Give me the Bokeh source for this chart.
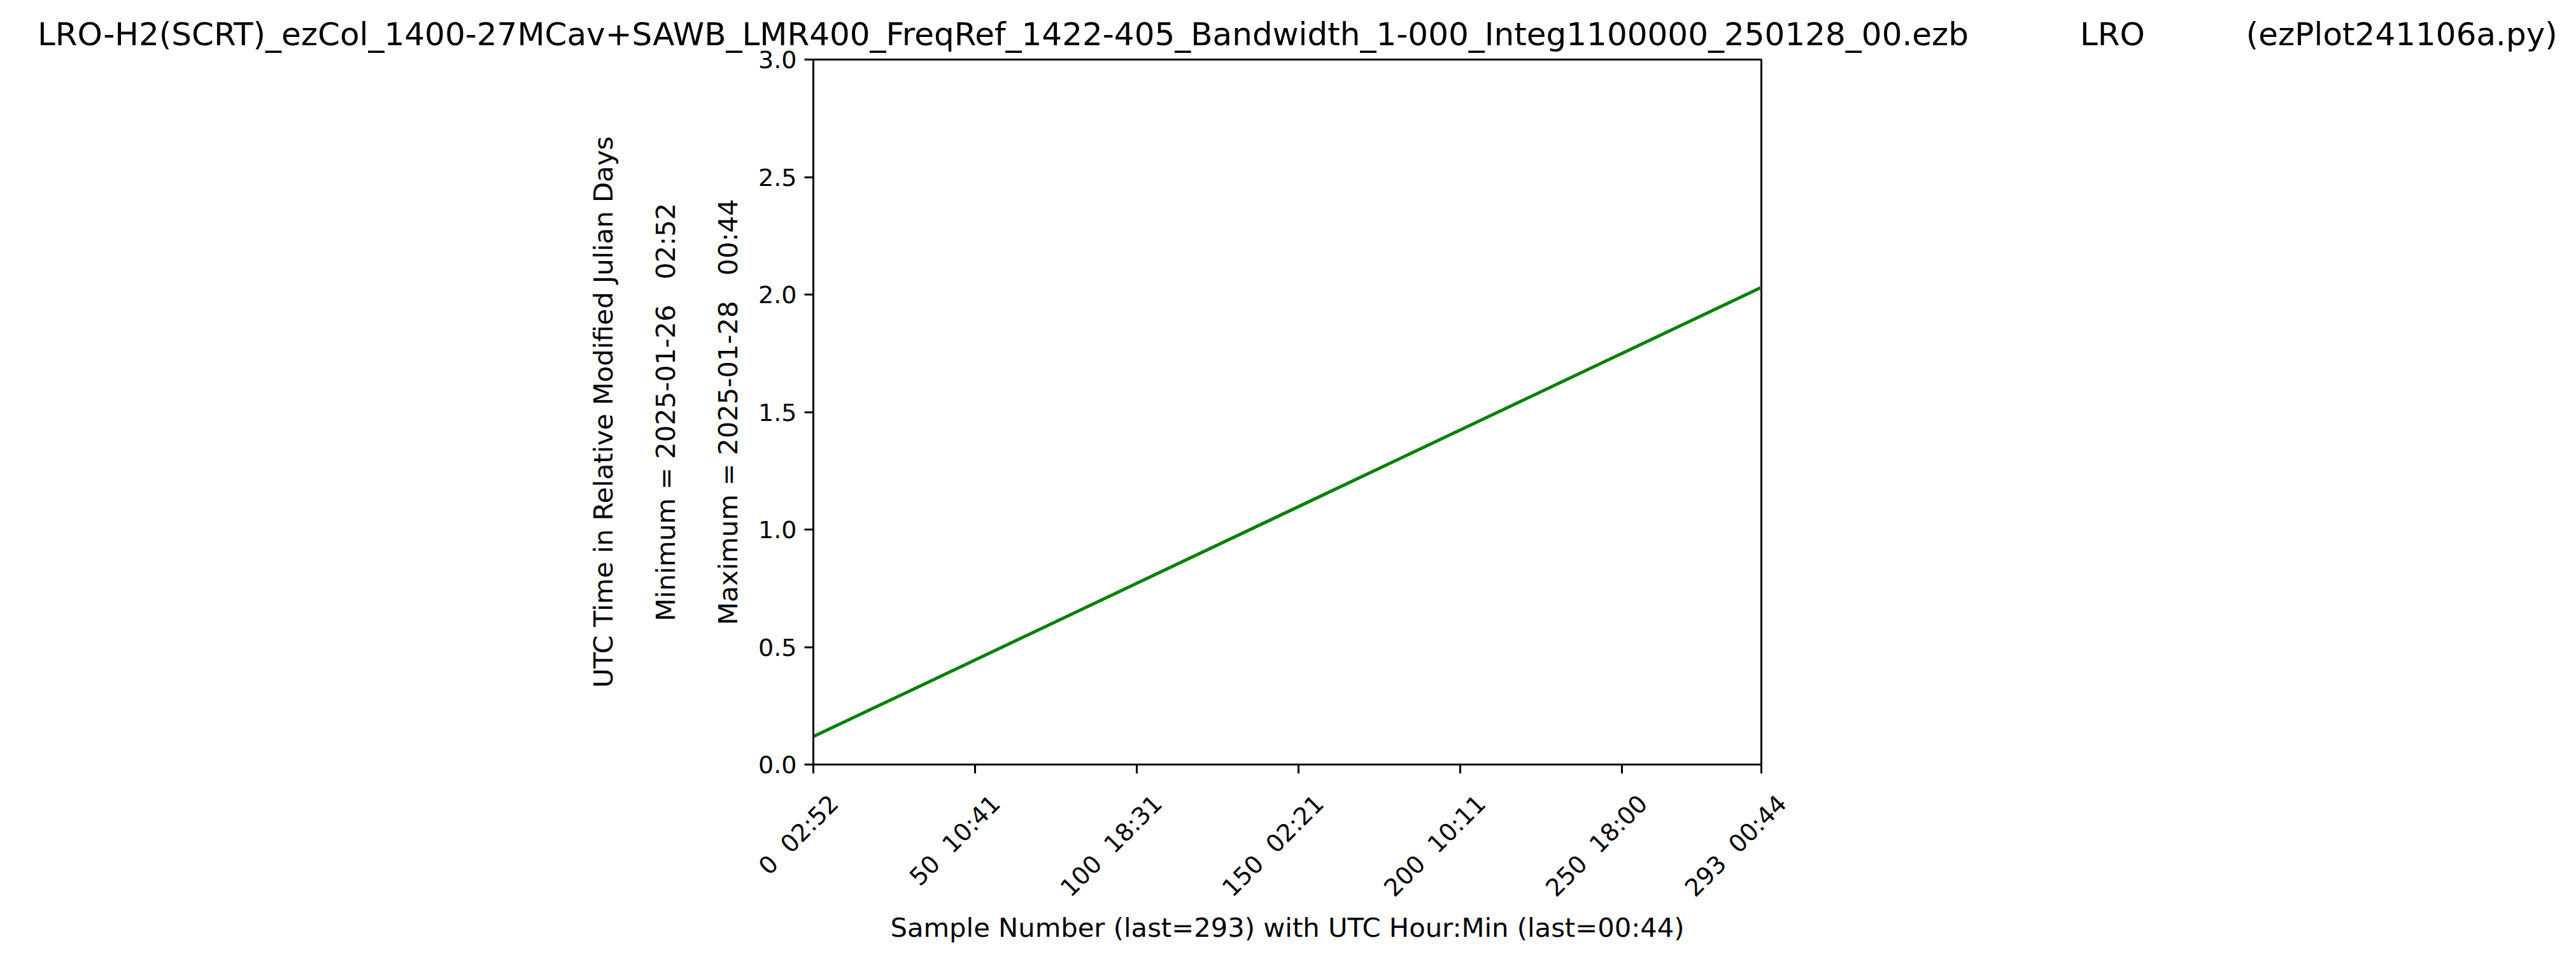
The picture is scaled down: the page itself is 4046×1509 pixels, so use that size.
import math
from bokeh.plotting import figure
from bokeh.models import FixedTicker, Range1d
from bokeh.embed import file_html
from bokeh.resources import INLINE

NB = "\u00a0"

# ---- data ----
sample_number = [0, 50, 100, 150, 200, 250, 293]
utc_rel_mjd = [0.1194, 0.4451, 0.7715, 1.0979, 1.4243, 1.7500, 2.0306]

x_tick_values = [0, 50, 100, 150, 200, 250, 293]
x_tick_hourmin = ["02:52", "10:41", "18:31", "02:21", "10:11", "18:00", "00:44"]
y_tick_values = [0.0, 0.5, 1.0, 1.5, 2.0, 2.5, 3.0]

file_name = "LRO-H2(SCRT)_ezCol_1400-27MCav+SAWB_LMR400_FreqRef_1422-405_Bandwidth_1-000_Integ1100000_250128_00.ezb"
station = "LRO"
program = "(ezPlot241106a.py)"
min_text = "Minimum = 2025-01-26" + NB * 3 + "02:52"
max_text = "Maximum = 2025-01-28" + NB * 3 + "00:44"

FONT = "DejaVu Sans"

p = figure(width=4030, height=1493, output_backend="svg", toolbar_location=None,
           x_range=Range1d(0, 293), y_range=Range1d(0, 3),
           min_border_left=1277, min_border_right=1264,
           min_border_top=93, min_border_bottom=293)

p.title.text = NB * 2 + file_name + NB * 11 + station + NB * 10 + program
p.title.align = "center"
p.title.text_font = FONT
p.title.text_font_size = "50px"
p.title.text_font_style = "normal"
p.title.text_color = "black"
p.title.standoff = 22

p.grid.visible = False
p.outline_line_color = "black"
p.outline_line_width = 3
p.outline_line_alpha = 1.0

p.line(sample_number, utc_rel_mjd, line_color="#008000", line_width=5)

# x axis
xa = p.xaxis[0]
xa.ticker = FixedTicker(ticks=x_tick_values)
xa.major_label_overrides = {v: f"\n{v}{NB}{NB}{hm}" for v, hm in zip(x_tick_values, x_tick_hourmin)}
xa.major_label_orientation = math.pi / 4
xa.axis_label = "Sample Number (last=293) with UTC Hour:Min (last=00:44)"

# y axis
ya = p.yaxis[0]
ya.ticker = FixedTicker(ticks=y_tick_values)
ya.major_label_overrides = {v: f"{v:.1f}" for v in y_tick_values}
ya.axis_label = "UTC Time in Relative Modified Julian Days\n\n" + min_text + "\n\n" + max_text

for ax in (xa, ya):
    ax.axis_line_color = "black"
    ax.axis_line_width = 3
    ax.major_tick_line_color = "black"
    ax.major_tick_line_width = 3
    ax.major_tick_out = 14
    ax.major_tick_in = 0
    ax.minor_tick_line_color = None
    ax.major_label_text_font = FONT
    ax.major_label_text_font_size = "38px"
    ax.major_label_text_color = "black"
    ax.major_label_standoff = 12
    ax.axis_label_text_font = FONT
    ax.axis_label_text_font_size = "41.7px"
    ax.axis_label_text_font_style = "normal"
    ax.axis_label_text_color = "black"

xa.major_label_text_line_height = 2.1
xa.major_label_standoff = 8
ya.axis_label_text_line_height = 1.0
ya.axis_label_standoff = 20
xa.axis_label_standoff = -36

open("out.html", "w").write(file_html(p, INLINE))
